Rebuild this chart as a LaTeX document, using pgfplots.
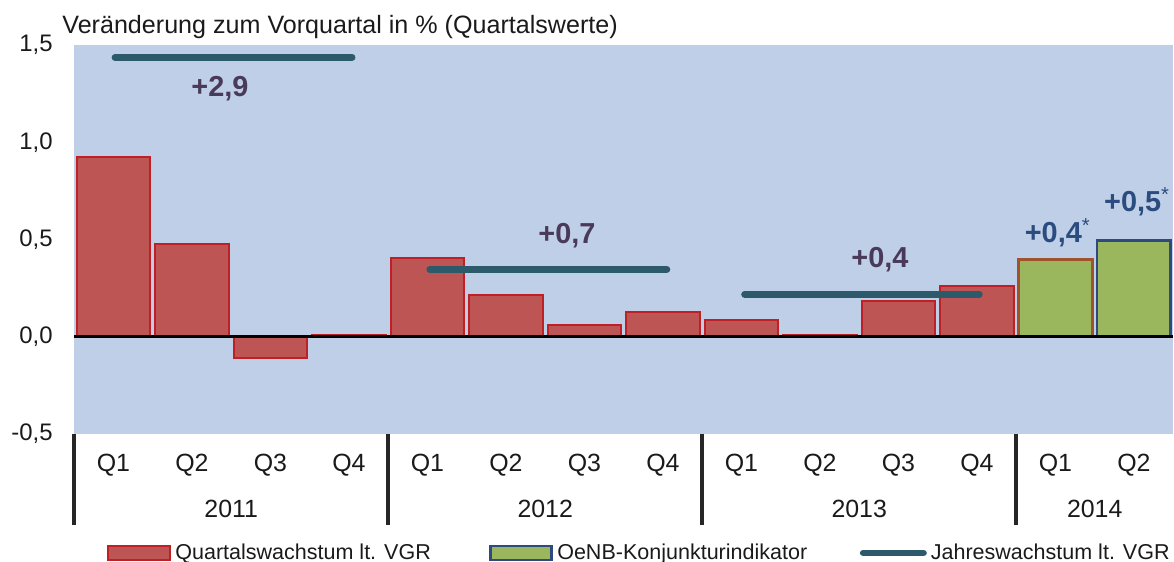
\documentclass[border=0pt]{standalone}
\usepackage{fontspec}
\setmainfont{Liberation Sans}
\usepackage{pgfplots}
\pgfplotsset{compat=1.18}
\definecolor{bgblue}{HTML}{C0CFE8}
\definecolor{barred}{HTML}{BC5553}
\definecolor{edgered}{HTML}{BE2026}
\definecolor{bargreen}{HTML}{9BB75E}
\definecolor{edgebrown}{HTML}{A0522D}
\definecolor{edgeblue}{HTML}{2E4A7E}
\definecolor{annual}{HTML}{2C5A6B}
\definecolor{lblpurple}{HTML}{4A3A5A}
\definecolor{lblblue}{HTML}{2B4C7E}
\definecolor{sepgray}{HTML}{262626}
\definecolor{txt}{HTML}{1A1A1A}
\pgfplotsset{
  swatchA/.style={legend image code/.code={\draw[##1] (0bp,-3.5bp) rectangle (31bp,3.5bp);}},
  swatchB/.style={legend image code/.code={\draw[##1] (0bp,-3.5bp) rectangle (30.5bp,3.5bp);}},
  swatchL/.style={legend image code/.code={\draw[##1] (1.7bp,0bp) -- (31.8bp,0bp);}},
}
\tikzset{boldlbl/.style={font=\fontsize{14.5}{16}\bfseries, yshift=-1.3bp}}
\begin{document}
\begin{tikzpicture}
\path[use as bounding box] (-37.1bp,-64.15bp) rectangle (549.9bp,216.85bp);
\begin{axis}[
  at={(0,0)}, anchor=south west,
  x=39.25bp, y=97.15bp,
  xmin=-0.5, xmax=13.5, ymin=-0.5, ymax=1.5,
  clip=false,
  axis line style={draw=none},
  axis background/.style={fill=bgblue},
  xtick pos=bottom, ytick pos=left,
  major tick length=0pt,
  ytick={-0.5,0,0.5,1,1.5},
  yticklabels={{-0,5},{0,0},{0,5},{1,0},{1,5}},
  yticklabel style={inner sep=0pt, anchor=east, xshift=-10.6bp, font=\fontsize{12}{14}\selectfont, text=txt},
  xtick={0,...,13},
  xticklabels={Q1,Q2,Q3,Q4,Q1,Q2,Q3,Q4,Q1,Q2,Q3,Q4,Q1,Q2},
  xticklabel style={inner sep=0pt, anchor=center, yshift=-15.6bp, font=\fontsize{12.5}{14}\selectfont, text=txt},
  extra x ticks={-0.5,3.5,7.5,11.5},
  extra x tick labels={},
  extra x tick style={major tick length=45.7bp, tick align=outside, tick style={line width=1.8bp, color=sepgray}},
  legend columns=3,
  legend style={at={(axis description cs:0.0298,-0.307)}, anchor=west, draw=none, fill=none, inner sep=0pt,
    font=\fontsize{10.8}{13}\selectfont, text=txt,
    nodes={inner sep=0pt, anchor=west},
    /tikz/every odd column/.append style={column sep=2bp},
    /tikz/column 2/.append style={column sep=29.3bp},
    /tikz/column 4/.append style={column sep=26.3bp}},
]
\addplot[ybar, bar width=0.94, bar shift=0pt, fill=barred, draw=edgered, line width=1bp, swatchA]
  coordinates {(0,0.925) (1,0.478) (2,-0.112) (3,0.008) (4,0.403) (5,0.214) (6,0.06) (7,0.128) (8,0.083) (9,0.009) (10,0.183) (11,0.258)};
\addlegendentry{Quartalswachstum lt. VGR}
\addplot[ybar, bar width=0.94, bar shift=0pt, fill=bargreen, draw=edgebrown, line width=1.4bp, forget plot]
  coordinates {(12,0.396)};
\addplot[ybar, bar width=0.94, bar shift=0pt, fill=bargreen, draw=edgeblue, line width=1.4bp, swatchB]
  coordinates {(13,0.494)};
\addlegendentry{OeNB-Konjunkturindikator}
\addplot[black, line width=1.6bp, forget plot] coordinates {(-0.5,0) (13.5,0)};
\addplot[annual, line width=3.4bp, line cap=round, swatchL]
  coordinates {(0.02,1.437) (3.04,1.437)};
\addlegendentry{Jahreswachstum lt. VGR}
\addplot[annual, line width=3.4bp, line cap=round, forget plot] coordinates {(4.03,0.346) (7.05,0.346)};
\addplot[annual, line width=3.4bp, line cap=round, forget plot] coordinates {(8.04,0.217) (11.03,0.217)};
\node[text=lblpurple, boldlbl] at (axis cs:1.357,1.289) {+2,9};
\node[text=lblpurple, boldlbl] at (axis cs:5.777,0.533) {+0,7};
\node[text=lblpurple, boldlbl] at (axis cs:9.764,0.409) {+0,4};
\node[text=lblblue, boldlbl] at (axis cs:12.03,0.548) {+0,4\textsuperscript{\mdseries*}};
\node[text=lblblue, boldlbl] at (axis cs:13.04,0.708) {+0,5\textsuperscript{\mdseries*}};
\node[text=txt, font=\fontsize{12.5}{14}\selectfont] at (axis cs:1.5,-0.5) [yshift=-37.6bp] {2011};
\node[text=txt, font=\fontsize{12.5}{14}\selectfont] at (axis cs:5.5,-0.5) [yshift=-37.6bp] {2012};
\node[text=txt, font=\fontsize{12.5}{14}\selectfont] at (axis cs:9.5,-0.5) [yshift=-37.6bp] {2013};
\node[text=txt, font=\fontsize{12.5}{14}\selectfont] at (axis cs:12.5,-0.5) [yshift=-37.6bp] {2014};
\node[text=txt, font=\fontsize{12.6}{14}\selectfont, anchor=west, inner sep=0pt] at (rel axis cs:0,1) [xshift=-6.1bp, yshift=9bp] {Veränderung zum Vorquartal in \% (Quartalswerte)};
\end{axis}
\end{tikzpicture}
\end{document}
